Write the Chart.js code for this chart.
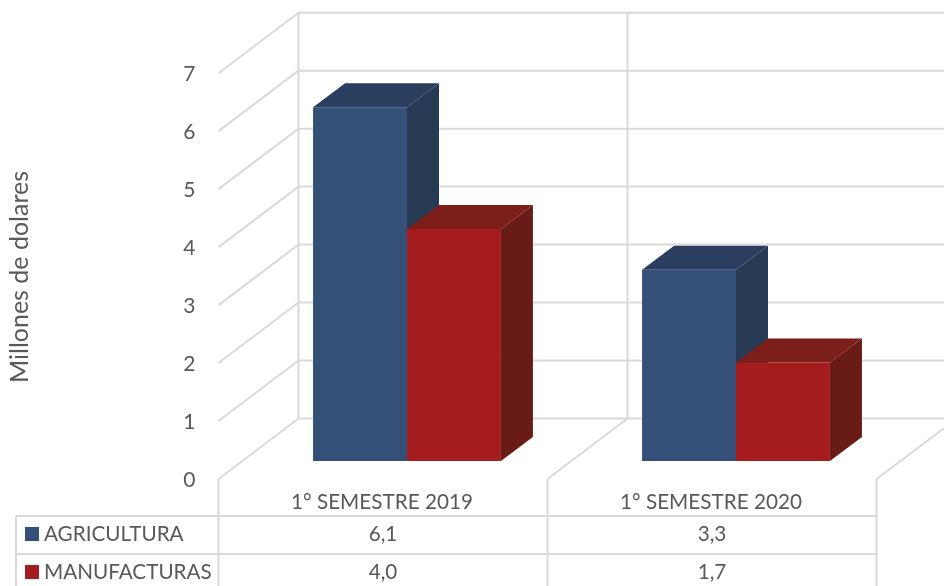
<!DOCTYPE html>
<html>
<head>
<meta charset="utf-8">
<title>Millones de dolares</title>
<script src="https://cdn.jsdelivr.net/npm/chart.js@4/dist/chart.umd.min.js"></script>
<style>
  html, body { margin: 0; padding: 0; background: #fff; }
  canvas { display: block; }
</style>
</head>
<body>
<canvas id="myChart" width="944" height="586"></canvas>
<script>
const categories = ['1° SEMESTRE 2019', '1° SEMESTRE 2020'];
const seriesNames = ['AGRICULTURA', 'MANUFACTURAS'];
const agricultura = [6.1, 3.3];
const manufacturas = [4.0, 1.7];
const yTicks = [0, 1, 2, 3, 4, 5, 6, 7];
const yTitle = 'Millones de dolares';

const fontName = 'Lato, "Open Sans", sans-serif';
const textColor = '#595959';
const lineColor = '#d9d9d9';
const frontColors = ['#345078', '#a51c1e'];
const topColors = ['#2a3f5f', '#7b1e19'];
const sideColors = ['#263a54', '#681c15'];

// depth of the fake 3d, relative to the plane the bars stand on
const depthX = 32, depthY = 24;
const frontX = -24, frontY = 18;
const backX = 56, backY = -42.5;

function line(ctx, x1, y1, x2, y2) {
  ctx.beginPath();
  ctx.moveTo(x1, y1);
  ctx.lineTo(x2, y2);
  ctx.stroke();
}

function poly(ctx, color, pts) {
  ctx.fillStyle = color;
  ctx.beginPath();
  pts.forEach((p, i) => i ? ctx.lineTo(p[0], p[1]) : ctx.moveTo(p[0], p[1]));
  ctx.closePath();
  ctx.fill();
}

const walls = {
  id: 'walls',
  beforeDatasetsDraw(chart) {
    const {ctx, chartArea, scales} = chart;
    const y = scales.y;
    const left = chartArea.left, right = chartArea.right;
    const step = (right - left) / categories.length;
    ctx.save();
    ctx.strokeStyle = lineColor;
    ctx.lineWidth = 2;
    yTicks.forEach(v => {
      const p = y.getPixelForValue(v);
      line(ctx, left + frontX, p + frontY, left + backX, p + backY);
      line(ctx, left + backX, p + backY, chart.width, p + backY);
    });
    const top = y.getPixelForValue(7) + backY;
    const bottom = y.getPixelForValue(0) + backY;
    for (let i = 0; i < categories.length; i++) {
      const wx = left + backX + i * step;
      line(ctx, wx, top, wx, bottom);
      if (i > 0) line(ctx, wx + frontX - backX, bottom + frontY - backY, wx, bottom);
    }
    const endX = right + frontX;
    const endY = y.getPixelForValue(0) + frontY;
    line(ctx, endX, endY, chart.width, endY - (chart.width - endX) * 0.75);

    // bar tops and sides go under the front faces
    chart.data.datasets.forEach((ds, i) => {
      chart.getDatasetMeta(i).data.forEach(bar => {
        const l = bar.x - bar.width / 2, r = bar.x + bar.width / 2;
        poly(ctx, sideColors[i], [[r, bar.y], [r + depthX, bar.y - depthY], [r + depthX, bar.base - depthY], [r, bar.base]]);
        poly(ctx, topColors[i], [[l, bar.y], [l + depthX, bar.y - depthY], [r + depthX, bar.y - depthY], [r, bar.y]]);
      });
    });
    ctx.restore();
  }
};

const dataTable = {
  id: 'dataTable',
  afterDraw(chart) {
    const {ctx, chartArea, scales} = chart;
    const tableLeft = 16, rowTop = 516, rowH = 38;
    const axisLeft = chartArea.left + frontX;
    const step = (chartArea.right - chartArea.left) / categories.length;
    const axisRight = axisLeft + step * categories.length;
    const floorY = scales.y.getPixelForValue(0) + frontY;
    ctx.save();
    ctx.strokeStyle = lineColor;
    ctx.lineWidth = 2;
    line(ctx, tableLeft, rowTop, axisRight, rowTop);
    line(ctx, tableLeft, rowTop + rowH, axisRight, rowTop + rowH);
    line(ctx, tableLeft, rowTop, tableLeft, chart.height);
    for (let i = 0; i <= categories.length; i++) {
      const cx = axisLeft + i * step;
      line(ctx, cx, floorY, cx, chart.height);
    }
    ctx.font = '20.7px ' + fontName;
    ctx.fillStyle = textColor;
    ctx.textBaseline = 'middle';
    [agricultura, manufacturas].forEach((vals, r) => {
      const cy = rowTop + rowH * r + 18;
      ctx.fillStyle = frontColors[r];
      ctx.fillRect(25, cy - 7, 14, 14);
      ctx.fillStyle = textColor;
      ctx.textAlign = 'left';
      ctx.fillText(seriesNames[r], 44, cy);
      ctx.textAlign = 'center';
      vals.forEach((v, c) => {
        ctx.fillText(v.toFixed(1).replace('.', ','), axisLeft + step * (c + 0.5), cy);
      });
    });
    ctx.font = '25px ' + fontName;
    ctx.translate(20, 277);
    ctx.rotate(-Math.PI / 2);
    ctx.fillText(yTitle, 0, 0);
    ctx.restore();
  }
};

new Chart(document.querySelector('#myChart').getContext('2d'), {
  type: 'bar',
  data: {
    labels: categories,
    datasets: [
      {label: seriesNames[0], data: agricultura, backgroundColor: frontColors[0]},
      {label: seriesNames[1], data: manufacturas, backgroundColor: frontColors[1]}
    ]
  },
  options: {
    responsive: false,
    animation: false,
    layout: {padding: {top: 55.2, right: 43.5}},
    categoryPercentage: 0.571,
    barPercentage: 1,
    plugins: {legend: {display: false}, tooltip: {enabled: false}},
    scales: {
      x: {
        grid: {display: false},
        border: {display: false},
        afterFit(s) { s.height = 125; },
        ticks: {
          color: textColor,
          font: {family: fontName, size: 20.7},
          padding: 21,
          labelOffset: -25,
          maxRotation: 0
        }
      },
      y: {
        min: 0,
        max: 7,
        grid: {display: false},
        border: {display: false},
        afterFit(s) { s.width = 242.5; },
        afterBuildTicks(s) { s.ticks = yTicks.map(v => ({value: v})); },
        ticks: {
          color: textColor,
          font: {family: fontName, size: 21},
          padding: 39,
          labelOffset: 19
        }
      }
    }
  },
  plugins: [walls, dataTable]
});
</script>
</body>
</html>
